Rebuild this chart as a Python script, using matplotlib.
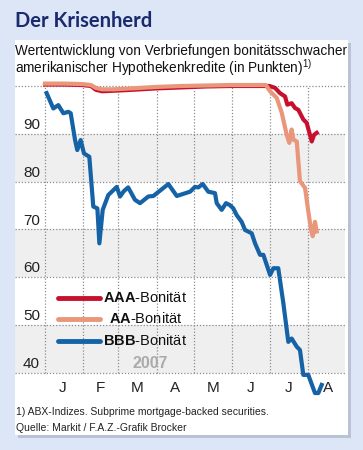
import matplotlib
matplotlib.use("Agg")
import matplotlib.pyplot as plt
from matplotlib import font_manager
from matplotlib.patches import Rectangle

# pick a narrow font if there is one
names = {f.name for f in font_manager.fontManager.ttflist}
narrow = "Liberation Sans Narrow" if "Liberation Sans Narrow" in names else "Liberation Sans"
plt.rcParams["font.family"] = [narrow, "DejaVu Sans"]
plt.rcParams["mathtext.fontset"] = "custom"
plt.rcParams["mathtext.rm"] = narrow
plt.rcParams["mathtext.bf"] = narrow + ":bold"

# days since 1 Jan 2007, index values in points
aaa_days = [0, 15, 30, 37, 41, 46, 55, 70, 90, 110, 130, 150, 170, 181, 185.4, 189.4, 193.5,
            195.3, 198.8, 201.5, 204.2, 208.2, 210.9, 213.1, 215, 216.9, 219]
aaa_vals = [100.3, 100.3, 100.2, 100.0, 99.2, 98.9, 99.0, 99.2, 99.5, 99.7, 99.9, 100.0, 100.0, 100.0,
            99.6, 98.5, 97.8, 96.1, 96.4, 95.4, 95.0, 93.0, 92.3, 90.2, 88.4, 89.8, 90.2]

aa_days = [0, 15, 30, 37, 41, 46, 55, 70, 90, 110, 130, 150, 170, 178, 181.4, 186.8, 190.8,
           194.8, 196.9, 198.8, 200.1, 202.9, 205.5, 209.6, 212.2, 214.4, 215.8, 217.6, 219]
aa_vals = [100.5, 100.5, 100.4, 100.2, 99.6, 99.3, 99.3, 99.5, 99.8, 100.0, 100.1, 100.2, 100.2, 100.2,
           98.9, 97.5, 94.4, 89.8, 88.1, 90.9, 88.8, 88.4, 80.1, 78.7, 73.8, 70.0, 68.6, 71.6, 69.6]

bbb_days = [1.3, 6.7, 10.7, 14.8, 18.8, 20.7, 24.2, 26, 28.7, 31.4, 35.7, 38.9, 42.2, 43.8, 46.5,
            51, 57.8, 60.5, 63.5, 67, 72.5, 76.6, 83.3, 87.3, 99.4, 106.2, 116.9, 120.9, 123.6,
            127.1, 131.6, 137, 138.4, 142.4, 145.9, 149, 151.8, 154.5, 158.5, 161.2, 166.6,
            169.3, 173.3, 176, 181.4, 184.1, 188, 192.1, 196.1, 198.8, 202.9, 205.5, 208.2,
            212.2, 217.6, 220.3, 223]
bbb_vals = [98.5, 95.3, 96.0, 94.3, 94.6, 94.3, 88.7, 86.6, 88.7, 85.9, 85.2, 74.8, 74.4, 67.1, 74.1,
            77.2, 78.9, 76.9, 78.0, 78.8, 76.2, 75.5, 76.9, 77.0, 79.5, 77.0, 77.9, 78.9, 78.8,
            79.5, 77.9, 77.6, 75.5, 74.1, 75.5, 75.1, 74.4, 73.0, 71.6, 69.9, 69.2,
            67.1, 64.7, 64.7, 60.5, 61.9, 61.9, 54.6, 46.5, 47.2, 45.5, 44.8, 39.6,
            39.6, 35.8, 35.8, 37.5]

month_starts = [0, 31, 59, 90, 120, 151, 181, 212]
month_labels = ["J", "F", "M", "A", "M", "J", "J", "A"]
month_mids = [14, 45, 74.5, 105, 135.5, 166, 196.5, 228]
yticks = [40, 50, 60, 70, 80, 90, 100]
ytick_labels = ["40", "50", "60", "70", "80", "90", ""]

c_aaa = "#c8102e"
c_aa = "#e9967a"
c_bbb = "#1563a6"
bg = "#dce6f6"

fig = plt.figure(figsize=(3.63, 4.5), dpi=100, facecolor=bg)

# white panel with shadow
W, H = 363, 450
fig.patches.append(Rectangle((18 / W, (H - 438) / H), 333 / W, 395 / H, transform=fig.transFigure,
                             facecolor="#b9c3d3", edgecolor="none", zorder=0))
fig.patches.append(Rectangle((15 / W, (H - 435) / H), 333 / W, 395 / H, transform=fig.transFigure,
                             facecolor="white", edgecolor="none", zorder=1))

ax = fig.add_axes([15 / W, (H - 400) / H, 330 / W, 320 / H])
ax.set_zorder(5)
ax.set_facecolor("none")
ax.set_xlim(-24.2, 241.8)
ax.set_ylim(34.35, 101.25)
ax.axis("off")

for lo in [40, 60, 80]:
    ax.axhspan(lo, lo + 10, color="#efefef", lw=0, zorder=0)
for y in yticks:
    ax.axhline(y, color="#8c8c8c", lw=0.9, ls=(0, (1, 1.5)), zorder=1)
ax.vlines(month_starts, 40, 100, color="#8c8c8c", lw=0.9, linestyles=[(0, (1, 1.5))], zorder=1)

for y, lab in zip(yticks, ytick_labels):
    ax.text(-4, y + 0.4, lab, ha="right", va="bottom", fontsize=11, color="#222222")
for d, lab in zip(month_mids, month_labels):
    ax.text(d, 36.9, lab, ha="center", va="center", fontsize=11, color="#222222")

ax.plot(bbb_days, bbb_vals, color=c_bbb, lw=3, solid_joinstyle="round", zorder=3)
ax.plot(aaa_days, aaa_vals, color=c_aaa, lw=3, solid_joinstyle="round", zorder=3)
ax.plot(aa_days, aa_vals, color=c_aa, lw=3, solid_joinstyle="round", zorder=4)

# legend
for yv, col, name in [(55.7, c_aaa, "AAA"), (51.3, c_aa, "AA"), (46.7, c_bbb, "BBB")]:
    ax.plot([10.5, 44.3], [yv, yv], color=col, lw=3.5, solid_capstyle="round", zorder=3)
    ax.text(81, yv, r"$\mathbf{%s}$-Bonität" % name, ha="center", va="center",
            fontsize=10.5, color="#111111")

ax.text(84.6, 41.9, "2007", ha="center", va="center", fontsize=11.5, fontweight="bold",
        color="#ababab")

fig.text(15 / W, 1 - 21 / H, "Der Krisenherd", ha="left", va="center", fontsize=14.5,
         fontweight="bold", color="#1a2a6e", family=["Lato", "DejaVu Sans"])
sub1 = fig.text(15 / W, 1 - 51 / H, "Wertentwicklung von Verbriefungen bonitätsschwacher",
                ha="left", va="center", fontsize=11, color="#111111")
sub2 = fig.text(15 / W, 1 - 68 / H, r"amerikanischer Hypothekenkredite (in Punkten)$^{\mathrm{1)}}$",
                ha="left", va="center", fontsize=11, color="#111111")
# fit the first subtitle line to the panel width
r = fig.canvas.get_renderer()
w = sub1.get_window_extent(r).width
fs = 11 * 330 / w
sub1.set_fontsize(fs)
sub2.set_fontsize(fs)

fig.text(16 / W, 1 - 412 / H, "1) ABX-Indizes. Subprime mortgage-backed securities.",
         ha="left", va="center", fontsize=7.5, color="#222222")
fig.text(16 / W, 1 - 428 / H, "Quelle: Markit / F.A.Z.-Grafik Brocker",
         ha="left", va="center", fontsize=7.5, color="#222222")

fig.savefig("out.png", dpi=100, facecolor=bg)
